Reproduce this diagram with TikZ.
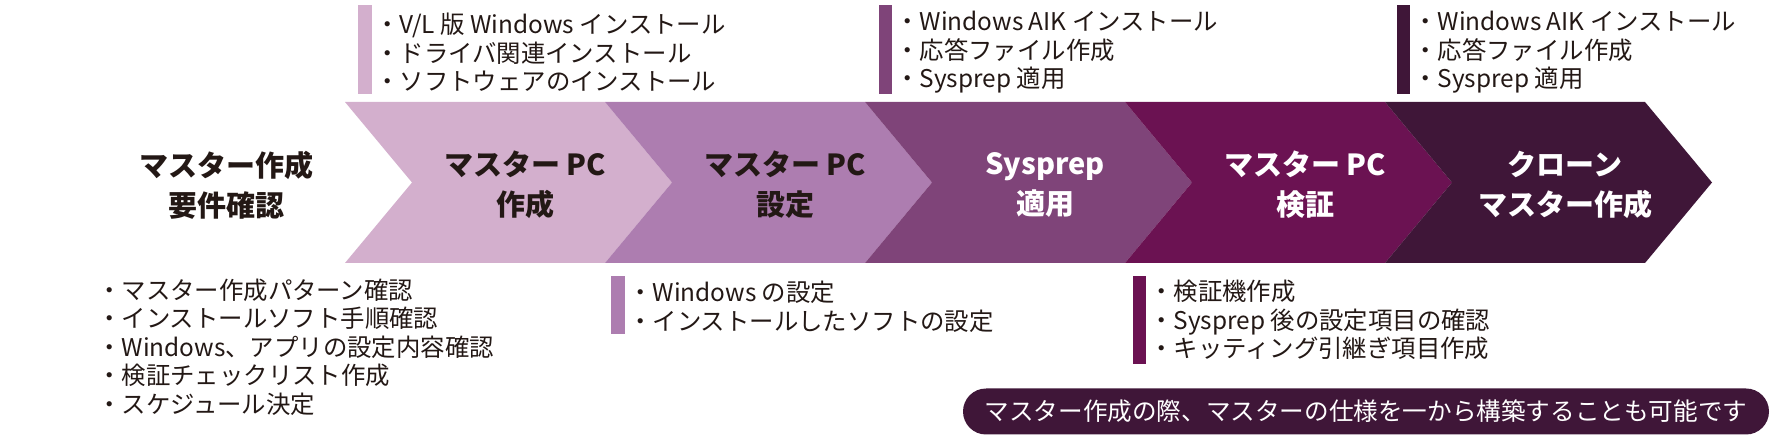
\documentclass[tikz,border=0pt]{standalone}
\usepackage{fontspec}
\newfontfamily\jp{Noto Sans CJK JP}
\usetikzlibrary{positioning}
\definecolor{stepA}{HTML}{D3AFCD}
\definecolor{stepB}{HTML}{AD7DB0}
\definecolor{stepC}{HTML}{7F4479}
\definecolor{stepD}{HTML}{6B1252}
\definecolor{stepE}{HTML}{3F1638}
\definecolor{ink}{HTML}{231815}
\tikzset{
  stagelabel/.style={align=center,inner sep=0pt,font=\jp\bfseries\fontsize{29}{40}\selectfont},
  bullets/.style={anchor=west,align=left,inner sep=0pt,text=ink,font=\jp\fontsize{24.4}{28.6}\selectfont},
  notebox/.style={fill=stepE,text=white,rounded corners=23pt,minimum width=806pt,minimum height=46pt,inner sep=0pt,font=\jp\fontsize{24.6}{28}\selectfont}
}
\begin{document}
\begin{tikzpicture}[x=1pt,y=-1pt]
          \useasboundingbox (0,0) rectangle (1770,435);
          % chevrons
          \fill[stepA] (345,102) -- (605,102) -- (672,182.5) -- (605,263) -- (345,263) -- (412,182.5) -- cycle;
          \fill[stepB] (605,102) -- (865,102) -- (932,182.5) -- (865,263) -- (605,263) -- (672,182.5) -- cycle;
          \fill[stepC] (865,102) -- (1125,102) -- (1192,182.5) -- (1125,263) -- (865,263) -- (932,182.5) -- cycle;
          \fill[stepD] (1125,102) -- (1385,102) -- (1452,182.5) -- (1385,263) -- (1125,263) -- (1192,182.5) -- cycle;
          \fill[stepE] (1385,102) -- (1645,102) -- (1712,182.5) -- (1645,263) -- (1385,263) -- (1452,182.5) -- cycle;
          % stage labels
          \node[stagelabel,text=ink] (req) at (226,185) {マスター作成\\要件確認};
          \node[stagelabel,text=ink] (build) at (525,185) {マスター PC\\作成};
          \node[stagelabel,text=ink] (setup) at (785,185) {マスター PC\\設定};
          \node[stagelabel,text=white] (sysprep) at (1045,185) {Sysprep\\適用};
          \node[stagelabel,text=white] (verify) at (1305,185) {マスター PC\\検証};
          \node[stagelabel,text=white] (clone) at (1565,185) {クローン\\マスター作成};
          % bars
          \fill[stepA] (358,5) rectangle (372,94);
          \fill[stepC] (879,5) rectangle (892,94);
          \fill[stepE] (1397,5) rectangle (1410,94);
          \fill[stepB] (611,276) rectangle (625,334);
          \fill[stepD] (1133,276) rectangle (1146,364);
          % notes
          \node[bullets] (buildnote) at (375,52.5) {・V/L 版 Windows インストール\\・ドライバ関連インストール\\・ソフトウェアのインストール};
          \node[bullets] (sysprepnote) at (895,52.5) {・Windows AIK インストール\\・応答ファイル作成\\・Sysprep 適用};
          \node[bullets] (clonenote) at (1413,52.5) {・Windows AIK インストール\\・応答ファイル作成\\・Sysprep 適用};
          \node[bullets] (reqnote) at (97,347) {・マスター作成パターン確認\\・インストールソフト手順確認\\・Windows、アプリの設定内容確認\\・検証チェックリスト作成\\・スケジュール決定};
          \node[bullets] (setupnote) at (628,306.5) {・Windows の設定\\・インストールしたソフトの設定};
          \node[bullets] (verifynote) at (1149,320) {・検証機作成\\・Sysprep 後の設定項目の確認\\・キッティング引継ぎ項目作成};
          \node[notebox] (remark) at (1366,411.5) {マスター作成の際、マスターの仕様を一から構築することも可能です};
        \end{tikzpicture}
\end{document}
